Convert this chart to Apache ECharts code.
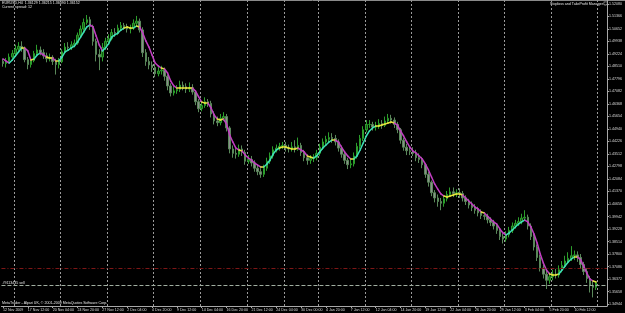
<!DOCTYPE html>
<html>
<head>
<meta charset="utf-8">
<script src="https://cdn.jsdelivr.net/npm/echarts@6/dist/echarts.min.js"></script>
<style>
  html, body { margin: 0; padding: 0; background: #000; }
  #chart { width: 625px; height: 313px; }
</style>
</head>
<body>
<div id="chart"></div>
<script>
// EURUSD H4, two H4 bars per slot (8 hours), 12 Nov 2009 - 12 Feb 2010
const timeLabels = ['12 Nov 2009', '17 Nov 12:00', '20 Nov 04:00', '24 Nov 20:00', '27 Nov 12:00', '2 Dec 04:00',
  '4 Dec 20:00', '9 Dec 12:00', '14 Dec 04:00', '16 Dec 20:00', '21 Dec 12:00', '24 Dec 04:00', '30 Dec 00:00',
  '4 Jan 20:00', '7 Jan 12:00', '12 Jan 04:00', '14 Jan 20:00', '19 Jan 12:00', '22 Jan 04:00', '26 Jan 20:00',
  '29 Jan 12:00', '3 Feb 04:00', '5 Feb 20:00', '10 Feb 12:00']

// slots where a new week (monday) starts
const weekStarts = [4, 19, 34, 49, 64, 79, 91, 102, 117, 132, 147, 162, 177, 192]

const firstOpen = 1.4880
const closes = [
  1.4868, 1.4880, 1.4905, 1.4925, 1.4950, 1.4966, 1.4952, 1.4890, 1.4862, 1.4885,
  1.4925, 1.4945, 1.4930, 1.4912, 1.4895, 1.4903, 1.4880, 1.4862, 1.4878, 1.4935,
  1.4962, 1.4958, 1.4975, 1.4985, 1.5030, 1.5065, 1.5102, 1.5118, 1.5080, 1.4995,
  1.4920, 1.4905, 1.4960, 1.4995, 1.5010, 1.5045, 1.5040, 1.5070, 1.5085, 1.5078,
  1.5065, 1.5070, 1.5098, 1.5110, 1.5060, 1.4930, 1.4880, 1.4860, 1.4845, 1.4810,
  1.4825, 1.4830, 1.4795, 1.4740, 1.4700, 1.4712, 1.4720, 1.4745, 1.4735, 1.4722,
  1.4730, 1.4705, 1.4650, 1.4610, 1.4628, 1.4650, 1.4640, 1.4580, 1.4540, 1.4530,
  1.4555, 1.4565, 1.4500, 1.4380, 1.4355, 1.4350, 1.4380, 1.4360, 1.4310, 1.4320,
  1.4300, 1.4270, 1.4250, 1.4235, 1.4270, 1.4310, 1.4340, 1.4375, 1.4385, 1.4395,
  1.4400, 1.4385, 1.4380, 1.4392, 1.4378, 1.4400, 1.4360, 1.4330, 1.4315, 1.4325,
  1.4330, 1.4355, 1.4390, 1.4420, 1.4435, 1.4445, 1.4440, 1.4420, 1.4385, 1.4350,
  1.4315, 1.4290, 1.4295, 1.4340, 1.4395, 1.4440, 1.4490, 1.4520, 1.4520, 1.4505,
  1.4510, 1.4525, 1.4515, 1.4540, 1.4555, 1.4545, 1.4520, 1.4490, 1.4430, 1.4390,
  1.4370, 1.4365, 1.4355, 1.4330, 1.4320, 1.4290, 1.4235, 1.4190, 1.4130, 1.4100,
  1.4080, 1.4070, 1.4095, 1.4120, 1.4135, 1.4125, 1.4130, 1.4125, 1.4100, 1.4080,
  1.4060, 1.4045, 1.4030, 1.4015, 1.4000, 1.3995, 1.3975, 1.3960, 1.3940, 1.3915,
  1.3880, 1.3865, 1.3890, 1.3915, 1.3940, 1.3955, 1.3965, 1.3985, 1.3990, 1.3940,
  1.3880, 1.3820, 1.3760, 1.3700, 1.3665, 1.3630, 1.3650, 1.3665, 1.3660, 1.3690,
  1.3715, 1.3740, 1.3755, 1.3770, 1.3775, 1.3760, 1.3720, 1.3680, 1.3640, 1.3600,
  1.3590, 1.3615
]
const highs = [
  1.4895, 1.4900, 1.4925, 1.4945, 1.4975, 1.4990, 1.4995, 1.4965, 1.4905, 1.4900,
  1.4940, 1.4975, 1.4965, 1.4950, 1.4930, 1.4925, 1.4915, 1.4895, 1.4900, 1.4950,
  1.4985, 1.4990, 1.4995, 1.5005, 1.5045, 1.5085, 1.5125, 1.5145, 1.5135, 1.5090,
  1.5010, 1.4950, 1.4985, 1.5015, 1.5035, 1.5065, 1.5070, 1.5090, 1.5105, 1.5100,
  1.5095, 1.5090, 1.5120, 1.5140, 1.5125, 1.5075, 1.4950, 1.4905, 1.4880, 1.4865,
  1.4850, 1.4855, 1.4845, 1.4805, 1.4755, 1.4735, 1.4745, 1.4770, 1.4765, 1.4755,
  1.4760, 1.4750, 1.4715, 1.4665, 1.4650, 1.4675, 1.4665, 1.4655, 1.4595, 1.4565,
  1.4580, 1.4590, 1.4580, 1.4510, 1.4400, 1.4380, 1.4405, 1.4400, 1.4375, 1.4345,
  1.4340, 1.4315, 1.4290, 1.4270, 1.4290, 1.4330, 1.4360, 1.4395, 1.4405, 1.4415,
  1.4420, 1.4420, 1.4405, 1.4420, 1.4430, 1.4445, 1.4415, 1.4375, 1.4350, 1.4345,
  1.4350, 1.4375, 1.4410, 1.4440, 1.4455, 1.4475, 1.4470, 1.4460, 1.4435, 1.4400,
  1.4365, 1.4330, 1.4320, 1.4360, 1.4415, 1.4460, 1.4510, 1.4545, 1.4545, 1.4535,
  1.4535, 1.4550, 1.4545, 1.4565, 1.4580, 1.4575, 1.4560, 1.4535, 1.4500, 1.4445,
  1.4410, 1.4395, 1.4390, 1.4375, 1.4355, 1.4335, 1.4300, 1.4250, 1.4200, 1.4145,
  1.4120, 1.4100, 1.4115, 1.4140, 1.4160, 1.4160, 1.4150, 1.4155, 1.4140, 1.4115,
  1.4095, 1.4080, 1.4065, 1.4050, 1.4035, 1.4020, 1.4010, 1.3990, 1.3975, 1.3955,
  1.3925, 1.3895, 1.3910, 1.3935, 1.3960, 1.3975, 1.3990, 1.4010, 1.4030, 1.4005,
  1.3955, 1.3895, 1.3835, 1.3775, 1.3720, 1.3690, 1.3675, 1.3690, 1.3695, 1.3715,
  1.3740, 1.3770, 1.3790, 1.3825, 1.3800, 1.3795, 1.3780, 1.3735, 1.3700, 1.3655,
  1.3625, 1.3622
]
const lows = [
  1.4850, 1.4845, 1.4872, 1.4895, 1.4915, 1.4940, 1.4935, 1.4875, 1.4835, 1.4845,
  1.4875, 1.4915, 1.4915, 1.4895, 1.4875, 1.4880, 1.4860, 1.4805, 1.4840, 1.4870,
  1.4925, 1.4940, 1.4945, 1.4960, 1.4975, 1.5020, 1.5055, 1.5090, 1.5060, 1.4970,
  1.4880, 1.4830, 1.4880, 1.4945, 1.4975, 1.5000, 1.5020, 1.5030, 1.5055, 1.5060,
  1.5045, 1.5040, 1.5060, 1.5085, 1.5045, 1.4905, 1.4855, 1.4835, 1.4820, 1.4790,
  1.4795, 1.4805, 1.4770, 1.4715, 1.4680, 1.4685, 1.4695, 1.4705, 1.4715, 1.4700,
  1.4705, 1.4690, 1.4630, 1.4590, 1.4595, 1.4615, 1.4620, 1.4560, 1.4520, 1.4510,
  1.4515, 1.4540, 1.4480, 1.4355, 1.4330, 1.4325, 1.4335, 1.4340, 1.4290, 1.4295,
  1.4280, 1.4250, 1.4230, 1.4215, 1.4220, 1.4255, 1.4295, 1.4325, 1.4360, 1.4370,
  1.4380, 1.4365, 1.4360, 1.4365, 1.4360, 1.4370, 1.4340, 1.4310, 1.4290, 1.4295,
  1.4305, 1.4315, 1.4340, 1.4375, 1.4405, 1.4420, 1.4415, 1.4400, 1.4365, 1.4330,
  1.4295, 1.4265, 1.4270, 1.4280, 1.4325, 1.4380, 1.4425, 1.4475, 1.4500, 1.4485,
  1.4485, 1.4495, 1.4495, 1.4505, 1.4530, 1.4525, 1.4500, 1.4470, 1.4410, 1.4370,
  1.4345, 1.4345, 1.4340, 1.4310, 1.4300, 1.4270, 1.4215, 1.4165, 1.4110, 1.4075,
  1.4050, 1.4030, 1.4050, 1.4080, 1.4105, 1.4105, 1.4105, 1.4100, 1.4080, 1.4060,
  1.4040, 1.4025, 1.4010, 1.3995, 1.3980, 1.3975, 1.3955, 1.3940, 1.3920, 1.3895,
  1.3860, 1.3840, 1.3850, 1.3875, 1.3900, 1.3925, 1.3940, 1.3950, 1.3970, 1.3920,
  1.3860, 1.3800, 1.3740, 1.3680, 1.3640, 1.3580, 1.3610, 1.3630, 1.3640, 1.3645,
  1.3675, 1.3700, 1.3725, 1.3740, 1.3745, 1.3735, 1.3700, 1.3660, 1.3615, 1.3560,
  1.3532, 1.3575
]
// coloured moving average (up / down / flat)
const maLine = [
  1.4894, 1.4882, 1.4871, 1.4888, 1.4911, 1.4934, 1.4957, 1.4957, 1.4940, 1.4888,
  1.4894, 1.4917, 1.4928, 1.4917, 1.4905, 1.4900, 1.4900, 1.4882, 1.4882, 1.4905,
  1.4934, 1.4945, 1.4957, 1.4968, 1.4991, 1.5019, 1.5048, 1.5077, 1.5088, 1.5077,
  1.5025, 1.4974, 1.4940, 1.4957, 1.4980, 1.5019, 1.5031, 1.5042, 1.5059, 1.5071,
  1.5077, 1.5071, 1.5071, 1.5082, 1.5077, 1.5042, 1.4997, 1.4962, 1.4917, 1.4871,
  1.4854, 1.4842, 1.4837, 1.4814, 1.4768, 1.4740, 1.4728, 1.4728, 1.4728, 1.4728,
  1.4728, 1.4728, 1.4711, 1.4677, 1.4648, 1.4642, 1.4642, 1.4614, 1.4574, 1.4551,
  1.4545, 1.4551, 1.4522, 1.4460, 1.4420, 1.4385, 1.4374, 1.4368, 1.4345, 1.4328,
  1.4317, 1.4300, 1.4288, 1.4277, 1.4277, 1.4294, 1.4317, 1.4351, 1.4374, 1.4385,
  1.4391, 1.4391, 1.4385, 1.4380, 1.4380, 1.4385, 1.4374, 1.4363, 1.4340, 1.4334,
  1.4328, 1.4340, 1.4363, 1.4385, 1.4403, 1.4420, 1.4431, 1.4431, 1.4420, 1.4391,
  1.4363, 1.4340, 1.4323, 1.4323, 1.4340, 1.4374, 1.4414, 1.4454, 1.4483, 1.4500,
  1.4511, 1.4511, 1.4517, 1.4522, 1.4528, 1.4534, 1.4528, 1.4517, 1.4483, 1.4454,
  1.4420, 1.4391, 1.4368, 1.4357, 1.4340, 1.4323, 1.4294, 1.4260, 1.4220, 1.4180,
  1.4151, 1.4123, 1.4111, 1.4106, 1.4111, 1.4117, 1.4123, 1.4123, 1.4117, 1.4100,
  1.4083, 1.4066, 1.4048, 1.4037, 1.4020, 1.4014, 1.3997, 1.3980, 1.3963, 1.3951,
  1.3923, 1.3900, 1.3889, 1.3900, 1.3917, 1.3934, 1.3951, 1.3963, 1.3974, 1.3963,
  1.3934, 1.3894, 1.3843, 1.3780, 1.3729, 1.3689, 1.3666, 1.3660, 1.3660, 1.3666,
  1.3689, 1.3711, 1.3734, 1.3751, 1.3763, 1.3763, 1.3746, 1.3711, 1.3671, 1.3637,
  1.3626, 1.3620
]

const priceTicks = [1.52080, 1.51366, 1.50652, 1.49938, 1.49224, 1.48510, 1.47796, 1.47082, 1.46368,
  1.45654, 1.44940, 1.44226, 1.43512, 1.42798, 1.42084, 1.41370, 1.40656, 1.39942, 1.39228,
  1.38514, 1.37800, 1.37086, 1.36372, 1.35658, 1.34944]

const lastPrice = 1.36152
const orderPrice = 1.36130
const stopPrice = 1.36600
const emptySlots = 3

const chartDom = document.getElementById('chart')
const chart = echarts.init(chartDom)

const slotCount = closes.length + emptySlots
const categories = Array.from({ length: slotCount }, (_, i) => i)
const candles = closes.map((c, i) => [i === 0 ? firstOpen : closes[i - 1], c, lows[i], highs[i]])
const maSegments = maLine.slice(0, -1).map((v, i) => [i, v, maLine[i + 1]])

const smallFont = 'Liberation Sans'

function segColor(a, b) {
  const d = b - a
  if (Math.abs(d) < 0.0008) return '#e4e43c'
  return d > 0 ? '#3ee0b6' : '#c23ec2'
}

const option = {
  backgroundColor: '#000',
  animation: false,
  grid: { left: 0, right: 16, top: 0, bottom: 7 },
  xAxis: {
    type: 'category',
    data: categories,
    boundaryGap: true,
    axisLine: { lineStyle: { color: '#a8a8a8', width: 1 } },
    axisTick: {
      show: true,
      length: 2,
      alignWithLabel: true,
      interval: (i) => i % 8 === 0 && i / 8 < timeLabels.length,
      lineStyle: { color: '#a8a8a8' }
    },
    axisLabel: {
      interval: (i) => i % 8 === 0 && i / 8 < timeLabels.length,
      formatter: (v, i) => timeLabels[i / 8] || '',
      align: 'left',
      margin: 2,
      fontSize: 3.6,
      fontFamily: smallFont,
      color: '#dcdcdc'
    },
    splitLine: {
      show: true,
      interval: (i) => weekStarts.includes(i),
      lineStyle: { color: '#9a9a9a', type: [2, 2], width: 1 }
    }
  },
  yAxis: {
    type: 'value',
    position: 'right',
    min: 1.34830,
    max: 1.52308,
    axisLine: { show: true, lineStyle: { color: '#a8a8a8' } },
    axisTick: { show: true, length: 2, customValues: priceTicks, lineStyle: { color: '#a8a8a8' } },
    axisLabel: {
      customValues: priceTicks,
      formatter: (v) => v.toFixed(5),
      margin: 2,
      fontSize: 3.6,
      fontFamily: smallFont,
      color: '#dcdcdc'
    },
    splitLine: { show: false }
  },
  series: [
    {
      type: 'candlestick',
      data: candles,
      barWidth: 2,
      itemStyle: {
        color: '#145c14',
        color0: '#8c8c8c',
        borderColor: '#2c9e2c',
        borderColor0: '#5a885a',
        borderWidth: 1
      },
      markLine: {
        silent: true,
        symbol: 'none',
        z: 10,
        data: [
          { yAxis: stopPrice, lineStyle: { color: '#7e1616', type: [4, 2, 1, 2], width: 1 }, label: { show: false } },
          {
            yAxis: orderPrice,
            lineStyle: { color: '#a0aea0', type: [4, 2], width: 1 },
            label: {
              show: true, position: 'insideStartTop', distance: 1, formatter: '#9113435 sell',
              fontSize: 3.6, fontFamily: smallFont, color: '#e0e0e0'
            }
          },
          {
            yAxis: lastPrice,
            lineStyle: { opacity: 0 },
            label: {
              show: true, position: 'end', distance: 1, formatter: lastPrice.toFixed(5),
              fontSize: 3.6, fontFamily: smallFont, color: '#000', backgroundColor: '#fff', padding: [1, 1]
            }
          }
        ]
      }
    },
    {
      type: 'custom',
      data: maSegments,
      encode: { x: 0, y: [1, 2] },
      clip: true,
      z: 5,
      renderItem: (params, api) => {
        const i = api.value(0)
        const a = api.value(1)
        const b = api.value(2)
        const p0 = api.coord([i, a])
        const p1 = api.coord([i + 1, b])
        return {
          type: 'line',
          shape: { x1: p0[0], y1: p0[1], x2: p1[0], y2: p1[1] },
          style: { stroke: segColor(a, b), lineWidth: 1.5, lineCap: 'round' }
        }
      }
    }
  ],
  graphic: [
    { type: 'line', shape: { x1: 0, y1: 0.5, x2: 625, y2: 0.5 }, style: { stroke: '#8a8a8a', lineWidth: 1 } },
    { type: 'text', left: 2, top: 1, style: { text: 'EURUSD,H4  1.36129 1.36215 1.36090 1.36152', fill: '#e6e6e6', font: '3.6px ' + smallFont } },
    { type: 'text', left: 2, top: 5, style: { text: 'Current spread: 12', fill: '#e6e6e6', font: '3.6px ' + smallFont } },
    { type: 'text', right: 22, top: 2, style: { text: 'Stoploss and TakeProfit Manager', fill: '#e6e6e6', font: '3.6px ' + smallFont } },
    { type: 'text', right: 17, top: 1, style: { text: '\u263A', fill: '#e6e6e6', font: '5px DejaVu Sans' } },
    { type: 'text', left: 2, top: 301, style: { text: 'MetaTrader - Alpari UK, \u00A9 2001-2009 MetaQuotes Software Corp.', fill: '#e6e6e6', font: '3.6px ' + smallFont } }
  ]
}

chart.setOption(option)
</script>
</body>
</html>
